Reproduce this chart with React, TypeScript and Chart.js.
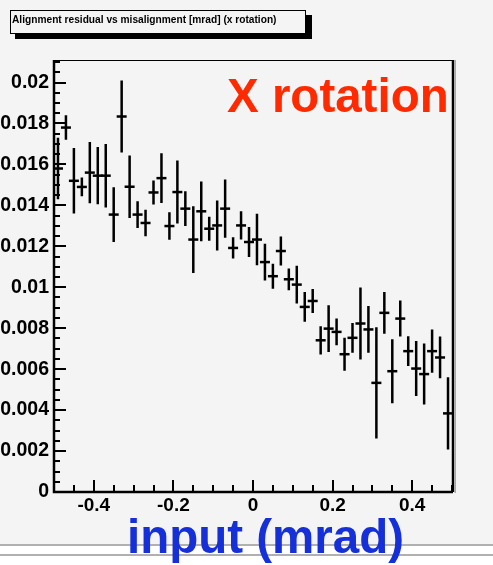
import React, { useEffect, useRef } from "react";
import { Chart, registerables } from "chart.js";

Chart.register(...registerables);

// ---- data ----
const binCenters = [
  -0.49, -0.47, -0.45, -0.43, -0.41, -0.39, -0.37, -0.35, -0.33, -0.31,
  -0.29, -0.27, -0.25, -0.23, -0.21, -0.19, -0.17, -0.15, -0.13, -0.11,
  -0.09, -0.07, -0.05, -0.03, -0.01, 0.01, 0.03, 0.05, 0.07, 0.09,
  0.11, 0.13, 0.15, 0.17, 0.19, 0.21, 0.23, 0.25, 0.27, 0.29,
  0.31, 0.33, 0.35, 0.37, 0.39, 0.41, 0.43, 0.45, 0.47, 0.49,
];
const residuals = [
  0.0158, 0.0178, 0.0152, 0.0149, 0.0156, 0.01545, 0.01545, 0.01355, 0.01834, 0.01491,
  0.01355, 0.01314, 0.01463, 0.01533, 0.01299, 0.01465, 0.01384, 0.01233, 0.01371, 0.01286,
  0.01302, 0.01384, 0.01192, 0.01302, 0.01221, 0.01233, 0.01123, 0.01054, 0.01177, 0.01039,
  0.01013, 0.00904, 0.00933, 0.00741, 0.00798, 0.00782, 0.00673, 0.00753, 0.00823, 0.00794,
  0.00533, 0.00875, 0.0059, 0.00847, 0.00688, 0.00603, 0.00576, 0.00688, 0.00657, 0.00384,
];
const residualErrors = [
  0.0015, 0.0006, 0.0016, 0.00046, 0.0015, 0.0014, 0.00155, 0.00134, 0.00176, 0.00153,
  0.00065, 0.00065, 0.00059, 0.00122, 0.00067, 0.00154, 0.00085, 0.00163, 0.00146, 0.00059,
  0.00122, 0.00142, 0.00052, 0.00069, 0.00073, 0.00126, 0.0009, 0.00061, 0.00071, 0.00053,
  0.00092, 0.00073, 0.00059, 0.00069, 0.00114, 0.00065, 0.00081, 0.00073, 0.00176, 0.00114,
  0.00272, 0.00102, 0.00156, 0.00088, 0.00073, 0.00134, 0.00149, 0.00106, 0.00102, 0.00176,
];
const xTickValues = [-0.4, -0.2, 0, 0.2, 0.4];
const xTickLabels = ["-0.4", "-0.2", "0", "0.2", "0.4"];
const yTickValues = [0, 0.002, 0.004, 0.006, 0.008, 0.01, 0.012, 0.014, 0.016, 0.018, 0.02];
const yTickLabels = ["0", "0.002", "0.004", "0.006", "0.008", "0.01", "0.012", "0.014", "0.016", "0.018", "0.02"];

const titleText = "Alignment residual vs misalignment [mrad] (x rotation)";
const labelText = "X rotation";
const xAxisTitle = "input (mrad)";

const FONT = '"Liberation Sans", Arial, Helvetica, sans-serif';

const rootStyle = {
  id: "rootStyle",
  beforeDraw(chart: any) {
    const { ctx, width, height } = chart;
    ctx.save();
    ctx.fillStyle = "#f4f4f4";
    ctx.fillRect(0, 0, width, 545);
    ctx.fillStyle = "#ffffff";
    ctx.fillRect(0, 545, width, height - 545);
    ctx.fillStyle = "#b0b0b0";
    ctx.fillRect(0, 544, width, 2);
    ctx.fillRect(0, 554, width, 2);

    // title box with shadow
    ctx.fillStyle = "#000";
    ctx.fillRect(15, 15, 297, 24);
    ctx.fillStyle = "#f4f4f4";
    ctx.fillRect(10, 10, 296, 24);
    ctx.strokeStyle = "#000";
    ctx.lineWidth = 1;
    ctx.strokeRect(10.5, 10.5, 295, 23);
    ctx.fillStyle = "#000";
    let fs = 10;
    ctx.font = `bold ${fs}px ${FONT}`;
    const w = ctx.measureText(titleText).width;
    fs = (fs * 265) / w;
    ctx.font = `bold ${fs.toFixed(2)}px ${FONT}`;
    ctx.textBaseline = "middle";
    ctx.textAlign = "left";
    ctx.fillText(titleText, 12, 20);
    ctx.restore();
  },
  afterDatasetsDraw(chart: any) {
    const { ctx, chartArea } = chart;
    const xs = chart.scales.x;
    const ys = chart.scales.y;
    const { left, right, top, bottom } = chartArea;
    ctx.save();

    // vertical error bars
    ctx.beginPath();
    ctx.rect(left, top, right - left, bottom - top);
    ctx.clip();
    ctx.strokeStyle = "#000";
    ctx.lineWidth = 2.5;
    ctx.beginPath();
    for (let i = 0; i < binCenters.length; i++) {
      const px = xs.getPixelForValue(binCenters[i]);
      const y1 = ys.getPixelForValue(residuals[i] - residualErrors[i]);
      const y2 = ys.getPixelForValue(residuals[i] + residualErrors[i]);
      ctx.moveTo(px, y1);
      ctx.lineTo(px, y2);
    }
    ctx.stroke();
    ctx.restore();

    ctx.save();
    // frame
    ctx.strokeStyle = "#000";
    ctx.lineWidth = 1;
    ctx.beginPath();
    ctx.moveTo(left, top + 0.5);
    ctx.lineTo(right, top + 0.5);
    ctx.stroke();
    ctx.lineWidth = 2.5;
    ctx.beginPath();
    ctx.moveTo(left, top);
    ctx.lineTo(left, bottom);
    ctx.lineTo(right + 1, bottom);
    ctx.moveTo(right + 1, top);
    ctx.lineTo(right + 1, bottom);
    ctx.stroke();
    ctx.fillStyle = "#a8a8a8";
    ctx.fillRect(right + 2.5, top, 1.5, bottom - top + 1);

    // y ticks (inside)
    ctx.lineWidth = 2;
    ctx.beginPath();
    for (let k = 0; k <= 42; k++) {
      const v = k * 0.0005;
      if (v > ys.max) break;
      const py = Math.round(ys.getPixelForValue(v));
      const len = k % 4 === 0 ? 12 : 6;
      ctx.moveTo(left, py);
      ctx.lineTo(left + len, py);
    }
    // x ticks (inside)
    for (let k = 0; k <= 20; k++) {
      const v = -0.5 + k * 0.05;
      const px = Math.round(xs.getPixelForValue(v));
      const isMajor = Math.abs(Math.round(v * 100) % 20) === 0 && Math.abs(v) < 0.49;
      const len = isMajor ? 12 : 7;
      ctx.moveTo(px, bottom);
      ctx.lineTo(px, bottom - len);
    }
    ctx.stroke();
    ctx.restore();
  },
  afterDraw(chart: any) {
    const { ctx } = chart;
    ctx.save();
    ctx.textAlign = "left";
    ctx.textBaseline = "alphabetic";
    ctx.fillStyle = "#ff2a00";
    ctx.font = `bold 47.5px ${FONT}`;
    ctx.fillText(labelText, 227, 112);
    ctx.fillStyle = "#1530d8";
    ctx.font = `bold 47.5px ${FONT}`;
    ctx.fillText(xAxisTitle, 127, 553);
    ctx.restore();
  },
};

export default function App() {
  const canvasRef = useRef<HTMLCanvasElement | null>(null);

  useEffect(() => {
    const canvas = canvasRef.current;
    if (!canvas) return;
    const chart = new Chart(canvas, {
      type: "scatter",
      data: {
        datasets: [
          {
            data: binCenters.map((x, i) => ({ x, y: residuals[i] })),
            pointStyle: "line",
            pointRadius: 5,
            pointBorderWidth: 2.5,
            pointBorderColor: "#000",
            pointBackgroundColor: "#000",
            showLine: false,
          } as any,
        ],
      },
      options: {
        responsive: false,
        animation: false,
        devicePixelRatio: 1,
        layout: { padding: { top: 60, right: 41, left: 0, bottom: 0 } },
        plugins: {
          legend: { display: false },
          tooltip: { enabled: false },
          title: { display: false },
        },
        scales: {
          x: {
            type: "linear",
            min: -0.5,
            max: 0.5,
            grid: { display: false, drawTicks: false },
            border: { display: false },
            afterBuildTicks: (s: any) => {
              s.ticks = xTickValues.map((v) => ({ value: v }));
            },
            afterFit: (s: any) => {
              s.height = 73;
            },
            ticks: {
              autoSkip: false,
              maxRotation: 0,
              padding: 2,
              color: "#000",
              font: { family: FONT, size: 19, weight: "bold" },
              callback: (_v: any, i: number) => xTickLabels[i],
            },
          },
          y: {
            type: "linear",
            min: 0,
            max: 0.0211,
            grid: { display: false, drawTicks: false },
            border: { display: false },
            afterBuildTicks: (s: any) => {
              s.ticks = yTickValues.map((v) => ({ value: v }));
            },
            afterFit: (s: any) => {
              s.width = 54;
            },
            ticks: {
              autoSkip: false,
              padding: 5,
              color: "#000",
              font: { family: FONT, size: 19.5, weight: "bold" },
              callback: (_v: any, i: number) => yTickLabels[i],
            },
          },
        },
      } as any,
      plugins: [rootStyle],
    });
    return () => chart.destroy();
  }, []);

  return (
    <div style={{ position: "absolute", left: 0, top: 0, width: 493, height: 565 }}>
      <canvas ref={canvasRef} width={493} height={565} style={{ display: "block" }} />
    </div>
  );
}
